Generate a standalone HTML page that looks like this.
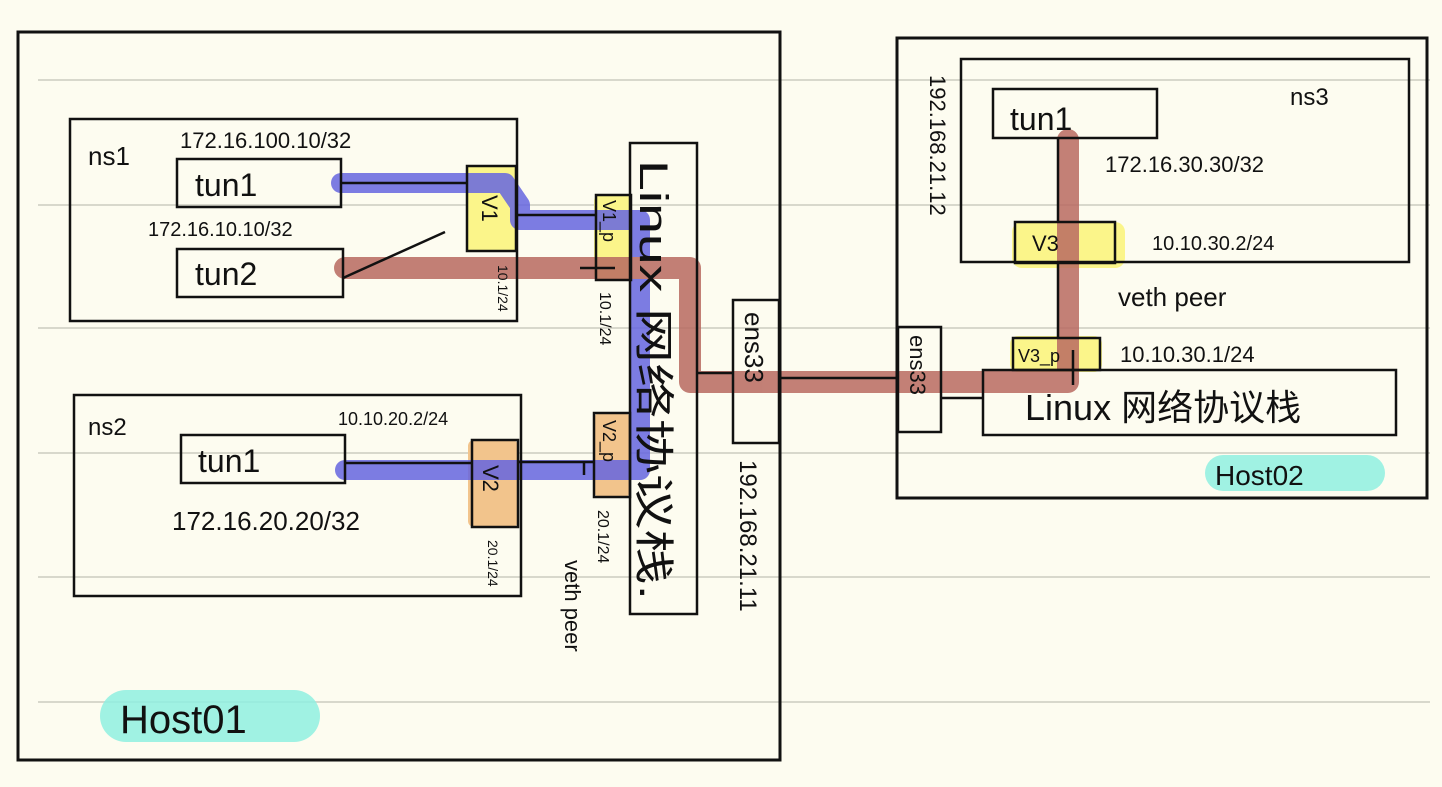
<!DOCTYPE html>
<html><head><meta charset="utf-8"><style>
html,body{margin:0;padding:0;background:#fdfcf0;}
svg{display:block}
text{font-family:"Liberation Sans","Noto Sans CJK SC",sans-serif;fill:#111;}
</style></head><body>
<svg width="1442" height="787" viewBox="0 0 1442 787" xmlns="http://www.w3.org/2000/svg">
<rect width="1442" height="787" fill="#fdfcf0"/>
<g stroke="#d8d8cc" stroke-width="2">
<line x1="38" y1="80" x2="1430" y2="80"/><line x1="38" y1="205" x2="1430" y2="205"/>
<line x1="38" y1="328" x2="1430" y2="328"/><line x1="38" y1="453" x2="1430" y2="453"/>
<line x1="38" y1="577" x2="1430" y2="577"/><line x1="38" y1="702" x2="1430" y2="702"/>
</g>
<rect x="100" y="690" width="220" height="52" rx="26" fill="#8ff0e0" opacity="0.85"/>
<rect x="1205" y="455" width="180" height="36" rx="18" fill="#8ff0e0" opacity="0.85"/>
<rect x="467" y="166" width="49" height="85" fill="#fbf58a"/>
<rect x="468" y="440" width="50" height="87" rx="6" fill="#f2c48c"/>
<rect x="594" y="195" width="37" height="85" rx="6" fill="#fbf58a"/>
<rect x="594" y="413" width="36" height="84" rx="6" fill="#f2c48c"/>
<rect x="1012" y="222" width="113" height="46" rx="10" fill="#fbf58a"/>
<rect x="1010" y="336" width="92" height="36" rx="8" fill="#fbf58a"/>
<g fill="none" stroke-linejoin="round" stroke-linecap="round" opacity="0.85">
<path d="M341 183 H505 L520 205 V220 H640 V470 H345" stroke="#6666e0" stroke-width="20"/>
<path d="M345 268 H690 V382 H1068 V140" stroke="#b86a60" stroke-width="22"/>
</g>
<g fill="none" stroke="#111" stroke-width="2.5">
<rect x="18" y="32" width="762" height="728" stroke-width="3"/>
<rect x="70" y="119" width="447" height="202"/>
<rect x="177" y="159" width="164" height="48"/>
<rect x="177" y="249" width="166" height="48"/>
<rect x="467" y="166" width="49" height="85"/>
<rect x="74" y="395" width="447" height="201"/>
<rect x="181" y="435" width="164" height="48"/>
<rect x="472" y="440" width="46" height="87"/>
<rect x="630" y="143" width="67" height="471"/>
<rect x="596" y="195" width="35" height="85"/>
<rect x="594" y="413" width="36" height="84"/>
<rect x="733" y="300" width="46" height="143"/>
<rect x="897" y="38" width="530" height="460" stroke-width="3"/>
<rect x="961" y="59" width="448" height="203"/>
<rect x="993" y="89" width="164" height="49"/>
<rect x="1015" y="222" width="100" height="41"/>
<rect x="1013" y="338" width="87" height="32"/>
<rect x="983" y="370" width="413" height="65"/>
<rect x="898" y="327" width="43" height="105"/>
</g>
<g stroke="#111" stroke-width="2.5" fill="none">
<line x1="341" y1="183" x2="467" y2="183"/>
<line x1="516" y1="215" x2="596" y2="215"/>
<line x1="343" y1="278" x2="445" y2="232"/>
<line x1="580" y1="268" x2="615" y2="268"/>
<line x1="345" y1="463" x2="472" y2="463"/>
<line x1="518" y1="462" x2="594" y2="462"/>
<line x1="584" y1="463" x2="584" y2="475"/>
<line x1="697" y1="373" x2="733" y2="373"/>
<line x1="779" y1="378" x2="897" y2="378"/>
<line x1="941" y1="398" x2="983" y2="398"/>
<line x1="1058" y1="138" x2="1058" y2="222"/>
<line x1="1058" y1="263" x2="1058" y2="338"/>
<line x1="1073" y1="350" x2="1073" y2="385"/>
</g>
<text x="88" y="165" font-size="26">ns1</text>
<text x="180" y="148" font-size="22">172.16.100.10/32</text>
<text x="195" y="196" font-size="32">tun1</text>
<text x="148" y="236" font-size="20">172.16.10.10/32</text>
<text x="195" y="285" font-size="32">tun2</text>
<text x="482" y="195" font-size="22" transform="rotate(90 482 195)">V1</text>
<text x="498" y="265" font-size="14" transform="rotate(90 498 265)">10.1/24</text>
<text x="88" y="435" font-size="24">ns2</text>
<text x="338" y="425" font-size="18">10.10.20.2/24</text>
<text x="198" y="472" font-size="32">tun1</text>
<text x="172" y="530" font-size="26">172.16.20.20/32</text>
<text x="483" y="465" font-size="22" transform="rotate(90 483 465)">V2</text>
<text x="488" y="540" font-size="14" transform="rotate(90 488 540)">20.1/24</text>
<text x="603" y="200" font-size="18" transform="rotate(90 603 200)">V1_p</text>
<text x="600" y="292" font-size="16" transform="rotate(90 600 292)">10.1/24</text>
<text x="603" y="420" font-size="18" transform="rotate(90 603 420)">V2_p</text>
<text x="598" y="510" font-size="16" transform="rotate(90 598 510)">20.1/24</text>
<text x="565" y="560" font-size="22" transform="rotate(90 565 560)">veth peer</text>
<text x="640" y="160" font-size="40" textLength="440" lengthAdjust="spacingAndGlyphs" transform="rotate(90 640 160)">Linux 网络协议栈.</text>
<text x="745" y="312" font-size="26" transform="rotate(90 745 312)">ens33</text>
<text x="740" y="460" font-size="24" transform="rotate(90 740 460)">192.168.21.11</text>
<text x="1290" y="105" font-size="24">ns3</text>
<text x="1010" y="130" font-size="32">tun1</text>
<text x="1105" y="172" font-size="22">172.16.30.30/32</text>
<text x="1032" y="251" font-size="22">V3</text>
<text x="1152" y="250" font-size="20">10.10.30.2/24</text>
<text x="1118" y="306" font-size="26">veth peer</text>
<text x="1018" y="362" font-size="18">V3_p</text>
<text x="1120" y="362" font-size="22">10.10.30.1/24</text>
<text x="1025" y="420" font-size="36">Linux 网络协议栈</text>
<text x="1215" y="485" font-size="28">Host02</text>
<text x="930" y="75" font-size="22" transform="rotate(90 930 75)">192.168.21.12</text>
<text x="910" y="335" font-size="22" transform="rotate(90 910 335)">ens33</text>
<text x="120" y="733" font-size="40">Host01</text>
</svg>
</body></html>
